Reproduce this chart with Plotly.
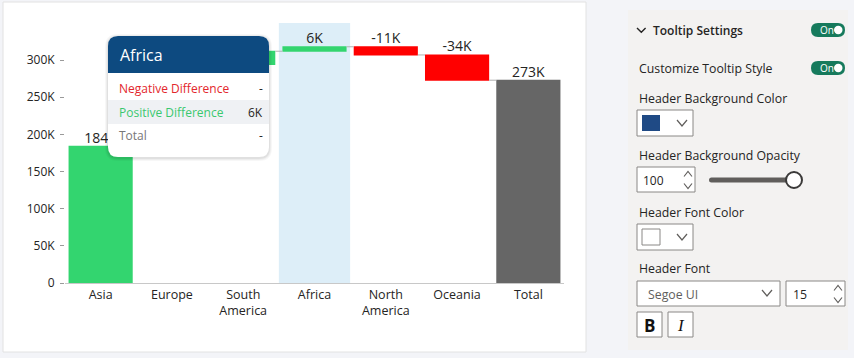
import plotly.graph_objects as go

# ---------------- data ----------------
categories = ["Asia", "Europe", "South America", "Africa", "North America", "Oceania", "Total"]
tick_labels = ["Asia", "Europe", "South<br>America", "Africa", "North<br>America", "Oceania", "Total"]
changes = [184000, 110000, 18000, 6000, -11000, -34000, 0]
measures = ["relative", "relative", "relative", "relative", "relative", "relative", "total"]
bar_labels = ["184K", "110K", "18K", "6K", "-11K", "-34K", "273K"]
y_tickvals = [0, 50000, 100000, 150000, 200000, 250000, 300000]
y_ticktext = ["0", "50K", "100K", "150K", "200K", "250K", "300K"]
highlight = "Africa"
tooltip_rows = ["Negative Difference", "Positive Difference", "Total"]
tooltip_values = ["-", "6K", "-"]

settings_labels = ["Customize Tooltip Style", "Header Background Color",
                   "Header Background Opacity", "Header Font Color", "Header Font"]

# ---------------- geometry helpers ----------------
WIDTH, HEIGHT = 854, 358
L, R, T, B = 65, 290, 23, 75
PW, PH = WIDTH - L - R, HEIGHT - T - B
FONT = "Open Sans, Segoe UI, sans-serif"


def px(x):
    return (x - L) / PW


def py(y):
    return (T + PH - y) / PH


def rrect(x0, y0, x1, y1, r, top_only=False):
    if top_only:
        s = f"M {px(x0)},{py(y1)} L {px(x0)},{py(y0 + r)} Q {px(x0)},{py(y0)} {px(x0 + r)},{py(y0)} "
        s += f"L {px(x1 - r)},{py(y0)} Q {px(x1)},{py(y0)} {px(x1)},{py(y0 + r)} L {px(x1)},{py(y1)} Z"
        return s
    s = f"M {px(x0 + r)},{py(y0)} L {px(x1 - r)},{py(y0)} Q {px(x1)},{py(y0)} {px(x1)},{py(y0 + r)} "
    s += f"L {px(x1)},{py(y1 - r)} Q {px(x1)},{py(y1)} {px(x1 - r)},{py(y1)} "
    s += f"L {px(x0 + r)},{py(y1)} Q {px(x0)},{py(y1)} {px(x0)},{py(y1 - r)} "
    s += f"L {px(x0)},{py(y0 + r)} Q {px(x0)},{py(y0)} {px(x0 + r)},{py(y0)} Z"
    return s


def pline(points):
    return "M " + " L ".join(f"{px(a)},{py(b)}" for a, b in points)


shapes = []
annotations = []


def rect(x0, y0, x1, y1, fill, line="rgba(0,0,0,0)", lw=0, layer="above"):
    shapes.append(dict(type="rect", xref="paper", yref="paper", x0=px(x0), x1=px(x1),
                       y0=py(y1), y1=py(y0), fillcolor=fill,
                       line=dict(color=line, width=lw), layer=layer))


def path(d, fill=None, line="rgba(0,0,0,0)", lw=0, layer="above"):
    sh = dict(type="path", xref="paper", yref="paper", path=d,
              line=dict(color=line, width=lw), layer=layer)
    if fill:
        sh["fillcolor"] = fill
    shapes.append(sh)


def text(x, y, s, size=12, color="#252423", anchor="left", weight=None, family=FONT, style=None):
    f = dict(size=size, color=color, family=family)
    if weight:
        f["weight"] = weight
    if style:
        f["style"] = style
    annotations.append(dict(x=px(x), y=py(y), xref="paper", yref="paper", text=s,
                            showarrow=False, xanchor=anchor, yanchor="middle", font=f))


# ---------------- background card ----------------
rect(3, 2, 586, 352, "#ffffff", "#e2e2e2", 1, layer="below")
hi = categories.index(highlight)
shapes.append(dict(type="rect", xref="x", yref="paper", x0=hi - 0.5, x1=hi + 0.5, y0=0, y1=1,
                   fillcolor="#ddeef8", line=dict(width=0), layer="below"))

# ---------------- waterfall ----------------
tops = []
running = 0
for v, m in zip(changes, measures):
    if m == "total":
        tops.append(running)
    else:
        tops.append(max(running, running + v))
        running += v

fig = go.Figure()
fig.add_trace(go.Waterfall(
    x=categories, y=changes, measure=measures,
    increasing=dict(marker=dict(color="#33d56f")),
    decreasing=dict(marker=dict(color="#ff0000")),
    totals=dict(marker=dict(color="#666666")),
    connector=dict(line=dict(color="#b0b0b0", width=1)),
    hoverinfo="skip", showlegend=False,
))
fig.add_trace(go.Scatter(
    x=categories, y=tops, text=bar_labels, mode="text", textposition="top center",
    textfont=dict(size=14, color="#252423", family=FONT), cliponaxis=False,
    hoverinfo="skip", showlegend=False,
))

# ---------------- tooltip overlay ----------------
for i, a in enumerate([0.03, 0.04, 0.05]):
    g = 3 - i
    path(rrect(108 - g, 36 - g + 1, 269 + g, 157 + g + 1, 10 + g), fill=f"rgba(0,0,0,{a})")
path(rrect(108, 36, 269, 157, 10), fill="#ffffff")
rect(108, 100, 269, 124, "#eff1f4")
path(rrect(108, 36, 269, 73, 10, top_only=True), fill="#0d4a80")
text(118, 55, highlight, size=16, color="#ffffff")
row_colors = ["#e3262c", "#3ac86f", "#777777"]
row_y = [88, 112, 135]
for name, val, c, yy in zip(tooltip_rows, tooltip_values, row_colors, row_y):
    text(117, yy, name, size=12, color=c)
    text(265, yy, val, size=12, color="#252423", anchor="right")

# ---------------- settings panel ----------------
rect(628, 10, 848, 350, "#f3f2f1")
path(pline([(637, 28), (641.3, 32.3), (645.6, 28)]), line="#252423", lw=1.4)
text(651, 30, "Tooltip Settings", size=12, weight=600)


def toggle(yc):
    path(rrect(811, yc - 7, 845, yc + 7, 7), fill="#167a5c")
    text(818, yc, "On", size=10, color="#ffffff")
    shapes.append(dict(type="circle", xref="paper", yref="paper", x0=px(834), x1=px(842.5),
                       y0=py(yc + 4.2), y1=py(yc - 4.2), fillcolor="#ffffff",
                       line=dict(width=0), layer="above"))


toggle(30)
toggle(68)
for s, yy in zip(settings_labels, [68, 98, 155, 212, 268]):
    text(637, yy, s, size=12.3)


def chevron_down(xc, yc, w=5, h=3, color="#605e5c", lw=1.2):
    path(pline([(xc - w, yc - h), (xc, yc + h), (xc + w, yc - h)]), line=color, lw=lw)


def chevron_up(xc, yc, w=4, h=2.5, color="#605e5c", lw=1.1):
    path(pline([(xc - w, yc + h), (xc, yc - h), (xc + w, yc + h)]), line=color, lw=lw)


# colour picker 1
rect(637, 110, 693, 136, "#ffffff", "#8a8886", 1)
rect(642, 115, 660, 131, "#1f4a85")
chevron_down(682, 123)
# opacity number box + slider
rect(637, 167, 695, 192, "#ffffff", "#8a8886", 1)
text(641, 180, "100", size=12)
chevron_up(688, 174)
chevron_down(688, 186, w=4, h=2.5)
path(rrect(709, 177.5, 796, 182.5, 2.5), fill="#605e5c")
shapes.append(dict(type="circle", xref="paper", yref="paper", x0=px(786), x1=px(802),
                   y0=py(188), y1=py(172), fillcolor="#ffffff",
                   line=dict(color="#3b3a39", width=2), layer="above"))
# colour picker 2
rect(637, 224, 693, 250, "#ffffff", "#8a8886", 1)
rect(642, 229, 660, 245, "#ffffff", "#8a8886", 1)
chevron_down(682, 237)
# font dropdown and size
rect(637, 281, 780, 306, "#ffffff", "#8a8886", 1)
text(646, 294, "Segoe UI", size=12.3, color="#605e5c")
chevron_down(767, 293)
rect(786, 281, 845, 306, "#ffffff", "#8a8886", 1)
text(791, 294, "15", size=12.3)
chevron_up(838, 288)
chevron_down(838, 300, w=4, h=2.5)
# B / I buttons
rect(637, 312, 662, 337, "#ffffff", "#8a8886", 1)
text(649.5, 325, "B", size=17, weight=700, anchor="center", color="#111111")
rect(668, 312, 693, 337, "#ffffff", "#8a8886", 1)
text(680.5, 325, "I", size=17, anchor="center", family="Liberation Serif, serif", style="italic", color="#111111")

# ---------------- layout ----------------
fig.update_layout(
    width=WIDTH, height=HEIGHT,
    margin=dict(l=L, r=R, t=T, b=B),
    paper_bgcolor="#f3f4f8", plot_bgcolor="rgba(0,0,0,0)",
    waterfallgap=0.1,
    font=dict(family=FONT, color="#252423"),
    shapes=shapes, annotations=annotations,
    showlegend=False,
    xaxis=dict(type="category", tickmode="array", tickvals=categories, ticktext=tick_labels,
               showgrid=False, showline=True, linecolor="#c8c8c8", linewidth=1,
               ticks="", tickfont=dict(size=12.5, color="#252423"), fixedrange=True,
               range=[-0.5, len(categories) - 0.5]),
    yaxis=dict(range=[0, 350000], tickvals=y_tickvals, ticktext=y_ticktext,
               showgrid=False, zeroline=False, showline=False,
               ticks="outside", ticklen=4, tickcolor="#9a9a9a", tickwidth=1,
               ticklabelstandoff=3,
               tickfont=dict(size=12, color="#252423"), fixedrange=True),
)

fig.write_html("out.html", config={"displayModeBar": False},
               post_script="document.body.style.margin='0px';document.body.style.padding='0px';")
